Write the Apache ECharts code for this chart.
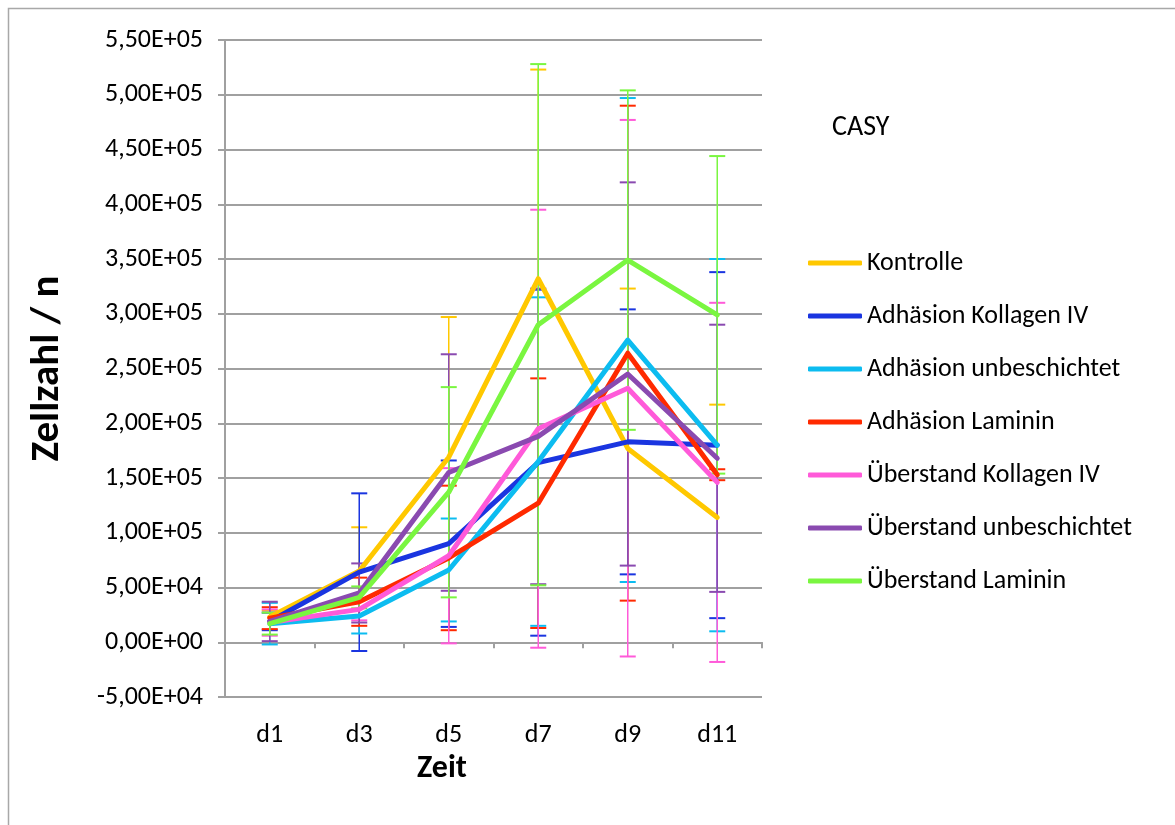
<!DOCTYPE html>
<html>
<head>
<meta charset="utf-8">
<script src="https://cdn.jsdelivr.net/npm/echarts@6/dist/echarts.min.js"></script>
<style>
html,body{margin:0;padding:0;background:#fff;}
#chart{width:1175px;height:825px;}
</style>
</head>
<body>
<div id="chart"></div>
<script>
// ---- data ----
const categories = ['d1', 'd3', 'd5', 'd7', 'd9', 'd11'];
const seriesNames = ['Kontrolle', 'Adhäsion Kollagen IV', 'Adhäsion unbeschichtet', 'Adhäsion Laminin', 'Überstand Kollagen IV', 'Überstand unbeschichtet', 'Überstand Laminin'];

const kontrolle = [23000, 65000, 169000, 332000, 177000, 114000];
const adhKollagen = [19000, 64000, 90000, 164000, 183000, 180000];
const adhUnbeschichtet = [17000, 24000, 66000, 165000, 276000, 180000];
const adhLaminin = [22000, 37000, 77000, 127000, 264000, 153000];
const ueKollagen = [18000, 30000, 79000, 195000, 232000, 146000];
const ueUnbeschichtet = [19000, 45000, 155000, 188000, 245000, 168000];
const ueLaminin = [17000, 41000, 137000, 290000, 349000, 299000];

const kontrolleErr = [6000, 40000, 128000, 191000, 146000, 103000];
const adhKollagenErr = [8000, 72000, 76000, 158000, 121000, 158000];
const adhUnbeschichtetErr = [19000, 16000, 47000, 150000, 221000, 170000];
const adhLamininErr = [10000, 22000, 66000, 114000, 226000, 5000];
const ueKollagenErr = [12000, 10000, 80000, 200000, 245000, 164000];
const ueUnbeschichtetErr = [18000, 27000, 108000, 135000, 175000, 122000];
const ueLamininErr = [10000, 10000, 96000, 238000, 155000, 145000];

// error bars of "Kontrolle" are drawn in plus direction only
const plusOnly = [true, false, false, false, false, false, false];

const yMin = -50000, yMax = 550000, yStep = 50000;

// ---- styling ----
const colors = ['#FFC800', '#1A35E0', '#0CBCF0', '#FF2A00', '#FF5AD9', '#8A4AB0', '#7AF640'];
const FONT = 'Carlito, Lato, "Open Sans", sans-serif';

const values = [kontrolle, adhKollagen, adhUnbeschichtet, adhLaminin, ueKollagen, ueUnbeschichtet, ueLaminin];
const errs = [kontrolleErr, adhKollagenErr, adhUnbeschichtetErr, adhLamininErr, ueKollagenErr, ueUnbeschichtetErr, ueLamininErr];

function sci(v) {
  if (v === 0) return '0,00E+00';
  const s = v.toExponential(2);
  const parts = s.split('e');
  const m = parts[0].replace('.', ',');
  let e = parseInt(parts[1], 10);
  const sign = e < 0 ? '-' : '+';
  e = Math.abs(e);
  return m + 'E' + sign + (e < 10 ? '0' + e : '' + e);
}

const series = [];
values.forEach((vals, si) => {
  const col = colors[si];
  const po = plusOnly[si];
  series.push({
    type: 'custom',
    name: seriesNames[si] + ' (Fehler)',
    data: vals.map((v, i) => [i, v, errs[si][i]]),
    itemStyle: { color: col },
    silent: true,
    z: 2,
    renderItem: function (params, api) {
      const x = api.value(0), v = api.value(1), e = api.value(2);
      const top = api.coord([x, v + e]);
      const bot = api.coord([x, po ? v : v - e]);
      const hw = 8;
      const st = { stroke: col, lineWidth: 1.5 };
      const ch = [
        { type: 'line', shape: { x1: top[0], y1: top[1], x2: bot[0], y2: bot[1] }, style: st },
        { type: 'line', shape: { x1: top[0] - hw, y1: top[1], x2: top[0] + hw, y2: top[1] }, style: { stroke: col, lineWidth: 2 } }
      ];
      if (!po) {
        ch.push({ type: 'line', shape: { x1: bot[0] - hw, y1: bot[1], x2: bot[0] + hw, y2: bot[1] }, style: { stroke: col, lineWidth: 2 } });
      }
      return { type: 'group', children: ch };
    }
  });
});
values.forEach((vals, si) => {
  series.push({
    type: 'line',
    name: seriesNames[si],
    data: vals,
    color: colors[si],
    symbol: 'none',
    z: 3,
    lineStyle: { width: 5, color: colors[si], join: 'round', cap: 'round' },
    itemStyle: { color: colors[si] }
  });
});

const chart = echarts.init(document.getElementById('chart'), null, { renderer: 'canvas' });
chart.setOption({
  animation: false,
  backgroundColor: '#ffffff',
  textStyle: { fontFamily: FONT },
  graphic: [
    { type: 'rect', shape: { x: 8.5, y: 8.5, width: 1200, height: 900 }, style: { fill: 'none', stroke: '#A8A8A8', lineWidth: 1.5 }, z: -10 },
    { type: 'text', left: 832, top: 114, style: { text: 'CASY', font: '28px ' + FONT, fill: '#000' } },
    { type: 'text', left: 417, top: 753, style: { text: 'Zeit', font: 'bold 32px ' + FONT, fill: '#000' } }
  ],
  grid: { left: 225, top: 40, width: 537, height: 657, containLabel: false },
  legend: {
    data: seriesNames,
    orient: 'vertical',
    left: 808,
    top: 249,
    padding: 0,
    icon: 'roundRect',
    itemWidth: 54,
    itemHeight: 5,
    itemGap: 25,
    selectedMode: false,
    textStyle: { fontFamily: FONT, fontSize: 26, color: '#000', lineHeight: 28 }
  },
  xAxis: {
    type: 'category',
    data: categories,
    boundaryGap: true,
    axisLine: { onZero: true, lineStyle: { color: '#A0A0A0', width: 2 } },
    axisTick: { show: true, inside: false, length: 6, lineStyle: { color: '#A0A0A0', width: 2 } },
    axisLabel: { margin: 25, fontFamily: FONT, fontSize: 26, color: '#000' },
    splitLine: { show: false }
  },
  yAxis: {
    type: 'value',
    min: yMin,
    max: yMax,
    interval: yStep,
    name: 'Zellzahl / n',
    nameLocation: 'middle',
    nameGap: 157,
    nameTextStyle: { fontFamily: FONT, fontSize: 41, fontWeight: 'bold', color: '#000' },
    axisLine: { show: true, lineStyle: { color: '#A0A0A0', width: 2 } },
    axisTick: { show: true, inside: false, length: 7, lineStyle: { color: '#A0A0A0', width: 2 } },
    axisLabel: { margin: 22, fontFamily: FONT, fontSize: 26, color: '#000', formatter: v => sci(v) },
    splitLine: { show: true, lineStyle: { color: '#A0A0A0', width: 2 } }
  },
  series: series
});
</script>
</body>
</html>
